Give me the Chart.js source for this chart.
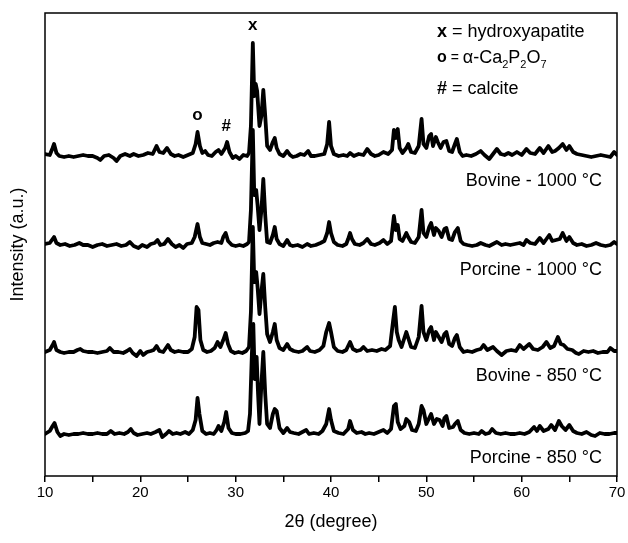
<!DOCTYPE html>
<html>
<head>
<meta charset="utf-8">
<script src="https://cdn.jsdelivr.net/npm/chart.js@4.4.1/dist/chart.umd.min.js"></script>
<style>
  html, body { margin: 0; padding: 0; background: #fff; }
  canvas { display: block; }
</style>
</head>
<body>
<canvas id="xrdChart" width="628" height="543"></canvas>
<script>
// [2θ (degree), intensity above the trace baseline (a.u.)]
const bovine1000 = [
  [10.0, 2], [10.5, 1], [10.8, 8], [10.95, 12], [11.2, 3], [11.5, 0], [12.0, -1], [12.5, 0], [13.0, -1],
  [13.5, 0], [14.0, 1], [14.5, 0], [15.0, 0], [15.5, -2], [15.8, -4], [16.2, 0], [16.7, 1], [17.2, -2],
  [17.5, -5], [17.9, 0], [18.4, 2], [18.9, 0], [19.3, 2], [19.8, 0], [20.3, 1], [20.8, 3], [21.3, 2],
  [21.7, 10], [22.0, 4], [22.4, 3], [22.8, 8], [23.2, 2], [23.6, 0], [24.0, 1], [24.5, -1], [25.0, 1],
  [25.5, 3], [25.8, 12], [26.0, 24], [26.25, 10], [26.5, 3], [26.8, 5], [27.1, 1], [27.5, 0], [27.9, 4],
  [28.2, 6], [28.5, 2], [28.9, 8], [29.1, 14], [29.35, 4], [29.7, -2], [30.0, 0], [30.4, -3], [30.8, 1],
  [31.2, 0], [31.4, 3], [31.6, 30], [31.8, 113], [31.95, 60], [32.1, 72], [32.25, 65], [32.5, 30],
  [32.7, 40], [32.9, 66], [33.1, 40], [33.3, 10], [33.6, 6], [33.9, 14], [34.1, 18], [34.3, 8], [34.6, 2],
  [35.0, 0], [35.4, 5], [35.7, 1], [36.0, -1], [36.4, 0], [36.8, 2], [37.2, 1], [37.6, 5], [37.9, 0],
  [38.3, 0], [38.8, 1], [39.3, 2], [39.6, 12], [39.8, 34], [40.0, 10], [40.3, 2], [40.8, 0], [41.3, 1],
  [41.7, 0], [42.0, 3], [42.4, 0], [42.9, 2], [43.4, 1], [43.8, 7], [44.2, 2], [44.6, 0], [45.0, 1],
  [45.5, 4], [46.0, 2], [46.4, 6], [46.6, 26], [46.8, 18], [47.0, 27], [47.2, 8], [47.5, 3], [47.9, 8],
  [48.1, 12], [48.4, 4], [48.8, 3], [49.2, 10], [49.5, 37], [49.7, 12], [50.0, 8], [50.3, 20], [50.5, 22],
  [50.7, 10], [51.0, 19], [51.2, 14], [51.5, 8], [51.8, 14], [52.1, 15], [52.4, 5], [52.7, 4], [53.0, 12],
  [53.2, 17], [53.5, 4], [53.8, 0], [54.2, 1], [54.7, 0], [55.2, 2], [55.7, 5], [56.1, 1], [56.6, -3],
  [57.0, 2], [57.4, 7], [57.8, 2], [58.2, 1], [58.6, 3], [59.0, 1], [59.5, 4], [60.0, 1], [60.5, 7],
  [60.9, 3], [61.4, 2], [61.9, 8], [62.3, 3], [62.8, 10], [63.2, 4], [63.5, 5], [63.9, 8], [64.3, 12],
  [64.7, 6], [65.0, 10], [65.4, 4], [65.8, 2], [66.3, 1], [66.8, 0], [67.3, -1], [67.8, 0], [68.3, 1],
  [68.8, 0], [69.3, -1], [69.7, 4], [70.0, 1]
];

const porcine1000 = [
  [10.0, 1], [10.5, 2], [10.8, 6], [10.95, 8], [11.2, 2], [11.6, 0], [12.1, 1], [12.6, -1], [13.1, 0],
  [13.6, 2], [14.0, 0], [14.5, 0], [15.0, -2], [15.5, 0], [16.0, 1], [16.5, -1], [17.0, 0], [17.5, 1],
  [18.0, -1], [18.5, 0], [18.9, 3], [19.3, -1], [19.8, -3], [20.2, 0], [20.7, -2], [21.1, 1], [21.5, 2],
  [21.8, 5], [22.1, 0], [22.5, 1], [22.9, 6], [23.3, 1], [23.7, -2], [24.1, 0], [24.5, -3], [24.9, 1],
  [25.4, 2], [25.7, 8], [26.0, 21], [26.25, 8], [26.5, 2], [26.9, 1], [27.3, 0], [27.7, 2], [28.1, 3],
  [28.5, 2], [28.7, 8], [28.95, 12], [29.2, 4], [29.6, 0], [30.0, -1], [30.4, 0], [30.8, -1], [31.2, 1],
  [31.4, 3], [31.6, 35], [31.8, 115], [31.95, 50], [32.15, 55], [32.3, 40], [32.5, 15], [32.7, 35],
  [32.9, 66], [33.1, 30], [33.3, 3], [33.6, 2], [33.9, 10], [34.1, 18], [34.3, 6], [34.6, 1], [35.0, -1],
  [35.4, 5], [35.7, 0], [36.0, -1], [36.5, 0], [37.0, -2], [37.5, 1], [37.9, -1], [38.4, 0], [38.9, 2],
  [39.3, 4], [39.6, 12], [39.8, 23], [40.0, 12], [40.3, 3], [40.7, 0], [41.2, -1], [41.6, 1], [41.8, 6],
  [42.0, 12], [42.2, 6], [42.5, 1], [43.0, 0], [43.4, 2], [43.8, 6], [44.2, 1], [44.6, 0], [45.1, 2],
  [45.5, 5], [45.9, 1], [46.3, 4], [46.6, 29], [46.8, 15], [47.0, 20], [47.2, 6], [47.5, 4], [47.9, 12],
  [48.1, 8], [48.4, 3], [48.8, 2], [49.2, 8], [49.5, 35], [49.7, 12], [50.0, 8], [50.3, 18], [50.5, 22],
  [50.8, 10], [51.0, 17], [51.3, 14], [51.6, 8], [51.9, 16], [52.1, 17], [52.4, 6], [52.7, 5], [53.0, 13],
  [53.3, 17], [53.6, 4], [53.9, 1], [54.3, 0], [54.8, -1], [55.3, 0], [55.7, 2], [56.2, 0], [56.6, -1],
  [57.0, 1], [57.4, 3], [57.9, 0], [58.3, 1], [58.8, 0], [59.3, 1], [59.8, 2], [60.2, 0], [60.5, 5],
  [60.9, 2], [61.4, 1], [61.9, 7], [62.3, 2], [62.9, 10], [63.2, 4], [63.6, 5], [64.0, 6], [64.3, 12],
  [64.7, 4], [65.0, 8], [65.4, 2], [65.8, 0], [66.3, 1], [66.8, -1], [67.3, 0], [67.8, 2], [68.3, 0],
  [68.8, -1], [69.3, 0], [69.7, 3], [70.0, 1]
];

const bovine850 = [
  [10.0, 0], [10.5, 2], [10.8, 7], [10.95, 10], [11.2, 2], [11.6, 0], [12.0, -1], [12.5, 0], [13.0, 0],
  [13.4, 2], [13.7, 3], [14.0, 1], [14.5, 0], [15.0, 0], [15.5, -1], [16.0, 0], [16.5, 1], [16.8, 4],
  [17.2, 0], [17.7, 0], [18.2, -1], [18.6, 1], [18.9, 3], [19.2, -1], [19.6, -4], [20.0, 1], [20.3, -3],
  [20.7, 0], [21.1, 1], [21.4, 2], [21.7, 6], [22.0, 1], [22.4, 0], [22.9, 7], [23.2, 2], [23.6, 0],
  [24.0, 1], [24.5, 0], [25.0, 0], [25.4, 3], [25.7, 15], [25.9, 45], [26.1, 42], [26.3, 12], [26.6, 2],
  [27.0, 0], [27.4, 1], [27.8, 4], [28.1, 10], [28.4, 5], [28.7, 12], [28.95, 19], [29.2, 8], [29.5, 1],
  [29.9, -1], [30.3, 0], [30.7, -1], [31.1, 1], [31.4, 5], [31.6, 40], [31.8, 125], [31.95, 70],
  [32.15, 80], [32.3, 65], [32.5, 38], [32.7, 60], [32.9, 78], [33.1, 45], [33.3, 18], [33.6, 10],
  [33.9, 20], [34.1, 28], [34.3, 12], [34.6, 4], [35.0, 2], [35.4, 8], [35.7, 3], [36.1, 1], [36.6, 0],
  [37.0, 1], [37.5, 5], [37.8, 1], [38.3, 0], [38.8, 2], [39.2, 6], [39.5, 20], [39.8, 29], [40.0, 20],
  [40.3, 5], [40.7, 1], [41.2, 0], [41.6, 2], [42.0, 10], [42.3, 3], [42.7, 1], [43.1, 2], [43.4, 5],
  [43.8, 1], [44.3, 2], [44.8, 1], [45.3, 3], [45.7, 2], [46.2, 6], [46.5, 30], [46.7, 45], [46.9, 20],
  [47.1, 12], [47.4, 5], [47.9, 20], [48.1, 14], [48.4, 5], [48.8, 4], [49.2, 15], [49.5, 46], [49.7, 20],
  [50.0, 12], [50.3, 22], [50.5, 25], [50.8, 12], [51.0, 20], [51.3, 15], [51.6, 10], [51.9, 18],
  [52.1, 20], [52.4, 8], [52.7, 6], [53.0, 14], [53.2, 17], [53.5, 5], [53.9, 0], [54.3, 1], [54.8, 0],
  [55.3, 2], [55.7, 3], [56.0, 7], [56.4, 2], [57.0, 5], [57.4, 1], [57.9, -3], [58.4, 1], [58.9, 2],
  [59.4, 1], [59.8, 7], [60.2, 3], [60.8, 8], [61.2, 3], [61.7, 2], [62.2, 5], [62.6, 10], [63.0, 4],
  [63.4, 6], [63.8, 15], [64.1, 8], [64.4, 7], [64.8, 3], [65.3, 2], [65.7, -1], [66.0, -2], [66.5, 1],
  [67.0, 0], [67.5, 1], [68.0, -1], [68.5, 0], [69.0, 0], [69.3, 4], [69.7, 1], [70.0, 1]
];

const porcine850 = [
  [10.0, 0], [10.5, 3], [10.8, 8], [11.0, 11], [11.3, 2], [11.6, -2], [12.0, 0], [12.5, -1], [13.0, 0],
  [13.5, 0], [14.0, 1], [14.5, 0], [15.0, 0], [15.5, 1], [16.0, 0], [16.5, 0], [16.9, 3], [17.3, 0],
  [17.8, 1], [18.3, 0], [18.7, 2], [19.0, 5], [19.3, 1], [19.7, -1], [20.2, 0], [20.7, 1], [21.1, 0],
  [21.6, 2], [22.0, 4], [22.3, -3], [22.7, 0], [23.0, 3], [23.4, 0], [23.8, 1], [24.2, 0], [24.7, 2],
  [25.1, 0], [25.5, 4], [25.8, 14], [26.0, 36], [26.2, 20], [26.5, 3], [26.9, 0], [27.3, 1], [27.7, 0],
  [28.0, 4], [28.2, 8], [28.5, 3], [28.8, 12], [29.0, 22], [29.25, 6], [29.6, 1], [30.0, 0], [30.5, 0],
  [31.0, 1], [31.3, 3], [31.5, 20], [31.7, 80], [31.85, 110], [32.0, 55], [32.2, 77], [32.35, 40],
  [32.5, 10], [32.7, 50], [32.9, 82], [33.1, 40], [33.3, 10], [33.6, 6], [33.9, 20], [34.1, 25],
  [34.3, 23], [34.6, 6], [35.0, 1], [35.4, 6], [35.7, 2], [36.1, 1], [36.6, 0], [37.0, 2], [37.4, 4],
  [37.7, 0], [38.2, 1], [38.7, 0], [39.1, 3], [39.5, 10], [39.8, 25], [40.0, 14], [40.3, 3], [40.8, 1],
  [41.3, 0], [41.8, 5], [42.0, 13], [42.3, 4], [42.7, 1], [43.2, 2], [43.6, 0], [44.0, 1], [44.5, 0],
  [45.0, 2], [45.5, 4], [45.9, 1], [46.3, 5], [46.6, 28], [46.8, 30], [47.0, 12], [47.3, 5], [47.7, 8],
  [47.9, 15], [48.2, 12], [48.5, 4], [48.9, 3], [49.2, 10], [49.5, 28], [49.7, 24], [50.0, 10],
  [50.3, 16], [50.5, 20], [50.8, 10], [51.1, 15], [51.4, 14], [51.7, 8], [51.9, 16], [52.1, 18],
  [52.4, 6], [52.8, 7], [53.0, 10], [53.3, 13], [53.6, 4], [54.0, 1], [54.5, 0], [55.0, 1], [55.5, 0],
  [55.8, 3], [56.2, 0], [56.6, 1], [56.9, 5], [57.3, 1], [57.8, 0], [58.3, 1], [58.8, 0], [59.3, 0],
  [59.8, 1], [60.3, 0], [60.8, 2], [61.3, 7], [61.6, 3], [61.9, 8], [62.3, 3], [62.8, 5], [63.1, 9],
  [63.5, 4], [63.9, 13], [64.2, 8], [64.6, 4], [65.0, 9], [65.4, 3], [65.8, 1], [66.3, 0], [66.8, 2],
  [67.3, -1], [67.7, -2], [68.2, 1], [68.7, 0], [69.2, 0], [69.7, 1], [70.0, 1]
];

const seriesNames = ["Bovine - 1000 °C", "Porcine - 1000 °C", "Bovine - 850 °C", "Porcine - 850 °C"];
const seriesData = [bovine1000, porcine1000, bovine850, porcine850];
// vertical shift of each trace in the stacked plot
const seriesOffsets = [320, 231, 124, 42];
// intensity level where each trace name sits
const labelLevels = [295, 206, 100, 18];
// phase markers: symbol, 2θ, intensity level
const phaseMarks = [["x", 31.8, 451], ["o", 26.0, 361], ["#", 29.0, 350]];

const FONT = "'Liberation Sans', Arial, sans-serif";

// legend rows: [text, size, bold, subscript shift]
const legendRows = [
  [["x", 18, true, 0], [" = hydroxyapatite", 18, false, 0]],
  [["o", 16, true, 0], [" = ", 14, false, 0], ["α-Ca", 18, false, 0], ["2", 11, false, 7],
   ["P", 18, false, 0], ["2", 11, false, 7], ["O", 18, false, 0], ["7", 11, false, 7]],
  [["#", 18, true, 0], [" = calcite", 18, false, 0]]
];

const annotations = {
  id: "annotations",
  afterDraw(chart) {
    const { ctx, chartArea: area, scales } = chart;
    ctx.save();

    // closed frame round the plot
    ctx.strokeStyle = "#000";
    ctx.lineWidth = 1.5;
    ctx.strokeRect(area.left, area.top, area.right - area.left, area.bottom - area.top);

    ctx.fillStyle = "#000";
    ctx.textBaseline = "middle";

    // sample names, right aligned
    ctx.textAlign = "right";
    ctx.font = `18px ${FONT}`;
    seriesNames.forEach((name, i) => {
      ctx.fillText(name, area.right - 15, scales.y.getPixelForValue(labelLevels[i]));
    });

    // phase markers above the peaks
    ctx.textAlign = "center";
    ctx.font = `bold 17px ${FONT}`;
    phaseMarks.forEach(([sym, t, level]) => {
      ctx.fillText(sym, scales.x.getPixelForValue(t), scales.y.getPixelForValue(level));
    });

    // phase legend
    ctx.textAlign = "left";
    const rowY = [32, 58, 89];
    legendRows.forEach((row, r) => {
      let x = 437;
      row.forEach(([text, size, bold, dy]) => {
        ctx.font = `${bold ? "bold " : ""}${size}px ${FONT}`;
        ctx.fillText(text, x, rowY[r] + dy);
        x += ctx.measureText(text).width;
      });
    });

    ctx.restore();
  }
};

new Chart(document.getElementById("xrdChart"), {
  type: "line",
  data: {
    datasets: seriesData.map((points, i) => ({
      label: seriesNames[i],
      data: points.map(([t, v]) => ({ x: t, y: v + seriesOffsets[i] })),
      borderColor: "#000",
      borderWidth: 3.8,
      borderJoinStyle: "round",
      borderCapStyle: "round",
      pointRadius: 0,
      fill: false,
      tension: 0
    }))
  },
  options: {
    responsive: false,
    animation: false,
    layout: { padding: { top: 13, right: 11, left: 0, bottom: 0 } },
    plugins: {
      legend: { display: false },
      tooltip: { enabled: false }
    },
    scales: {
      x: {
        type: "linear",
        min: 10,
        max: 70,
        afterFit: (s) => { s.height = 67; },
        border: { display: false },
        grid: { drawOnChartArea: false, drawTicks: true, tickLength: 6, color: "#000", lineWidth: 1.5 },
        ticks: {
          stepSize: 5,
          autoSkip: false,
          maxRotation: 0,
          padding: 2,
          color: "#000",
          font: { family: FONT, size: 15 },
          callback: (v) => (v % 10 === 0 ? v : "")
        },
        title: {
          display: true,
          text: "2θ (degree)",
          color: "#000",
          font: { family: FONT, size: 18 },
          padding: { top: 0, bottom: 10 }
        }
      },
      y: {
        min: 0,
        max: 463,
        afterFit: (s) => { s.width = 45; },
        border: { display: false },
        grid: { display: false },
        ticks: { display: false },
        title: {
          display: true,
          text: "Intensity (a.u.)",
          color: "#000",
          font: { family: FONT, size: 18 },
          padding: { top: 7, bottom: 0 }
        }
      }
    }
  },
  plugins: [annotations]
});
</script>
</body>
</html>
